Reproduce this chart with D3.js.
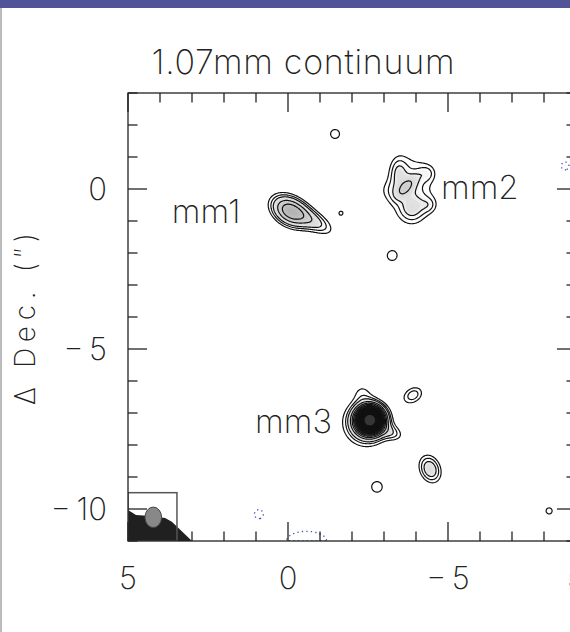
<!DOCTYPE html>
<html>
<head>
<meta charset="utf-8">
<script src="https://cdn.jsdelivr.net/npm/d3@7.9.0/dist/d3.min.js"></script>
<style>
  body { margin: 0; background: #fff; }
  svg text { font-family: Inter, 'DejaVu Sans', sans-serif; font-weight: 200; fill: #222; }
</style>
</head>
<body>
<svg id="chart" width="570" height="632"></svg>
<script>
// offsets in arcsec
const raDomain = [5, -9];
const decDomain = [3, -11];
const raTicks = d3.range(5, -9.5, -1);
const decTicks = d3.range(3, -11.5, -1);
const majorTicks = [5, 0, -5, -10];
const raLabels = [5, 0, -5];
const decLabels = [0, -5, -10];

// emission components (peak in sigma, widths in arcsec, pa in deg)
// mm1: main, tail
// mm2: base, lobe A, inner ridge, lobe C, bulge D, bulge E, west edge
// mm3: core, base, top bump, tail
// knots, then the three negative patches
const compX    = [-0.06, -0.92,   -3.84, -3.44, -3.69, -3.88, -4.38, -4.44, -3.13,   -2.56, -2.44, -2.31, -3.28,   -1.47, -3.25, -2.78, -8.16, -1.66, -3.91, -4.44,   0.91, -0.58, -8.66];
const compY    = [-0.69, -1.06,    0.03,  0.56,  0.06, -0.66,  0.50, -0.50, -0.06,   -7.22, -7.31, -6.31, -7.63,    1.72, -2.09, -9.31, -10.06, -0.75, -6.44, -8.75, -10.16, -11.0, 0.72];
const compPeak = [10.2, 4.5,       4.5, 2.5, 3, 2.5, 2, 2, 1.5,                     45, 7, 2, 3,                  3.5, 3.4, 3.65, 3.4, 3.14, 4.6, 6.2,                -3.5, -5, -3.5];
const compMaj  = [0.47, 0.50,      0.90, 0.35, 0.32, 0.30, 0.20, 0.20, 0.25,        0.25, 0.55, 0.25, 0.30,       0.25, 0.25, 0.26, 0.19, 0.16, 0.30, 0.37,           0.25, 0.62, 0.22];
const compMin  = [0.32, 0.24,      0.60, 0.20, 0.14, 0.30, 0.20, 0.20, 0.25,        0.25, 0.55, 0.25, 0.18,       0.25, 0.25, 0.26, 0.19, 0.16, 0.22, 0.27,           0.25, 0.30, 0.22];
const compPA   = [32, 32,          90, 90, -47, 0, 0, 0, 0,                         0, 0, 0, 21,                  0, 0, 0, 0, 0, -32, 68,                             0, 0, 0];

// contour levels (sigma)
const lineLevels = [3, 4, 5, 7].concat(d3.range(9, 42, 2));
const negLevels = [3];
const grayLevels = d3.range(4, 24, 0.5);

// source names
const srcNames = ['mm1', 'mm2', 'mm3'];
const srcLabelX = [3.63, -4.78, 1.03];
const srcLabelY = [-1.06, -0.31, -7.62];

// beam and blanked corner
const beamX = 4.21, beamY = -10.26, beamRx = 0.26, beamRy = 0.32;
const beamBoxX = [5, 3.47];
const beamBoxY = [-9.49, -11];
const maskX = [5, 4.75, 4.3, 3.84, 3.63, 3, 5];
const maskY = [-10.03, -10.19, -10.22, -10.28, -10.4, -11, -11];

const svg = d3.select('#chart');

// page decoration
svg.append('rect').attr('x', 0).attr('y', 0).attr('width', 570).attr('height', 8).attr('fill', '#525498');
svg.append('line').attr('x1', 1).attr('x2', 1).attr('y1', 8).attr('y2', 632).attr('stroke', '#bbb').attr('stroke-width', 2);

const x = d3.scaleLinear().domain(raDomain).range([128, 576]);
const y = d3.scaleLinear().domain(decDomain).range([93, 541]);
const W = x.range()[1] - x.range()[0];
const H = y.range()[1] - y.range()[0];

svg.append('clipPath').attr('id', 'plotclip')
  .append('rect').attr('x', x(5)).attr('y', y(3)).attr('width', W).attr('height', H);

// build the map on a pixel grid
const n = Math.round(W), m = Math.round(H);
const grid = new Float64Array(n * m);
for (let j = 0; j < m; j++) {
  const dy = y.invert(y.range()[0] + j + 0.5);
  for (let i = 0; i < n; i++) {
    const dx = x.invert(x.range()[0] + i + 0.5);
    let v = 0;
    for (let k = 0; k < compX.length; k++) {
      const a = compPA[k] * Math.PI / 180;
      const ex = dx - compX[k], ey = dy - compY[k];
      const u = (ex * Math.cos(a) + ey * Math.sin(a)) / compMaj[k];
      const w = (-ex * Math.sin(a) + ey * Math.cos(a)) / compMin[k];
      v += compPeak[k] * Math.exp(-0.5 * (u * u + w * w));
    }
    grid[j * n + i] = v;
  }
}

const path = d3.geoPath(d3.geoIdentity().translate([x(5), y(3)]));
const gray = d3.scaleLinear().domain([4, 5.5, 11, 18]).range(['#ffffff', '#e0e0e0', '#b0b0b0', '#363636']).clamp(true);

const plot = svg.append('g').attr('clip-path', 'url(#plotclip)');

// greyscale
plot.selectAll('path.fill')
  .data(d3.contours().size([n, m]).thresholds(grayLevels)(grid))
  .join('path')
  .attr('class', 'fill')
  .attr('d', path)
  .attr('fill', d => gray(d.value));

// positive contours
plot.selectAll('path.pos')
  .data(d3.contours().size([n, m]).thresholds(lineLevels)(grid))
  .join('path')
  .attr('class', 'pos')
  .attr('d', path)
  .attr('fill', 'none')
  .attr('stroke', '#111')
  .attr('stroke-width', 1.2);

// negative contours, dotted blue
const neg = grid.map(v => -v);
plot.selectAll('path.neg')
  .data(d3.contours().size([n, m]).thresholds(negLevels)(neg))
  .join('path')
  .attr('class', 'neg')
  .attr('d', path)
  .attr('fill', 'none')
  .attr('stroke', '#4050b8')
  .attr('stroke-width', 1.3)
  .attr('stroke-dasharray', '1.3,3.2');

// blanked corner + beam
plot.append('polygon')
  .attr('points', maskX.map((d, i) => [x(d), y(maskY[i])].join(',')).join(' '))
  .attr('fill', '#202020');
plot.append('rect')
  .attr('x', x(beamBoxX[0])).attr('y', y(beamBoxY[0]))
  .attr('width', x(beamBoxX[1]) - x(beamBoxX[0]))
  .attr('height', y(beamBoxY[1]) - y(beamBoxY[0]))
  .attr('fill', 'none').attr('stroke', '#555').attr('stroke-width', 1.5);
plot.append('ellipse')
  .attr('cx', x(beamX)).attr('cy', y(beamY))
  .attr('rx', x(beamX - beamRx) - x(beamX)).attr('ry', y(beamY - beamRy) - y(beamY))
  .attr('fill', '#888').attr('stroke', '#444').attr('stroke-width', 1);

// frame and ticks on all four sides
const axisColor = '#222';
svg.append('rect')
  .attr('x', x(5)).attr('y', y(3)).attr('width', W).attr('height', H)
  .attr('fill', 'none').attr('stroke', axisColor).attr('stroke-width', 1.3);

const tickLen = d => majorTicks.includes(d) ? 19 : 9.5;
const ticks = svg.append('g').attr('stroke', axisColor).attr('stroke-width', 1.3);
raTicks.forEach(d => {
  ticks.append('line').attr('x1', x(d)).attr('x2', x(d)).attr('y1', y(-11)).attr('y2', y(-11) - tickLen(d));
  ticks.append('line').attr('x1', x(d)).attr('x2', x(d)).attr('y1', y(3)).attr('y2', y(3) + tickLen(d));
});
decTicks.forEach(d => {
  ticks.append('line').attr('x1', x(5)).attr('x2', x(5) + tickLen(d)).attr('y1', y(d)).attr('y2', y(d));
  ticks.append('line').attr('x1', x(-9)).attr('x2', x(-9) - tickLen(d)).attr('y1', y(d)).attr('y2', y(d));
});

// tick labels (the minus sign sits a little apart from the digits)
const fmt = d => d < 0 ? '\u2212\u2009' + Math.abs(d) : String(d);
svg.selectAll('text.xl')
  .data(raLabels)
  .join('text')
  .attr('class', 'xl')
  .attr('x', d => x(d))
  .attr('y', 589)
  .attr('text-anchor', 'middle')
  .attr('font-size', 31)
  .text(fmt);
// neighbouring panel's first label peeks in at the right edge
svg.append('text').attr('x', x(-9)).attr('y', 589).attr('text-anchor', 'middle').attr('font-size', 31).text('5');

svg.selectAll('text.yl')
  .data(decLabels)
  .join('text')
  .attr('class', 'yl')
  .attr('x', 107)
  .attr('y', d => y(d) + 11)
  .attr('text-anchor', 'end')
  .attr('font-size', 31)
  .text(fmt);

// source labels
svg.selectAll('text.src')
  .data(srcNames)
  .join('text')
  .attr('class', 'src')
  .attr('x', (d, i) => x(srcLabelX[i]))
  .attr('y', (d, i) => y(srcLabelY[i]))
  .attr('font-size', 33)
  .text(d => d);

// title and axis title
svg.append('text')
  .attr('x', 303).attr('y', 74)
  .attr('text-anchor', 'middle')
  .attr('font-size', 34)
  .attr('textLength', 303)
  .attr('lengthAdjust', 'spacing')
  .text('1.07mm continuum');

svg.append('text')
  .attr('transform', 'translate(35,319) rotate(-90)')
  .attr('text-anchor', 'middle')
  .attr('font-size', 28)
  .attr('textLength', 172)
  .attr('lengthAdjust', 'spacing')
  .text('\u0394 Dec. (\u2033)');
</script>
</body>
</html>
